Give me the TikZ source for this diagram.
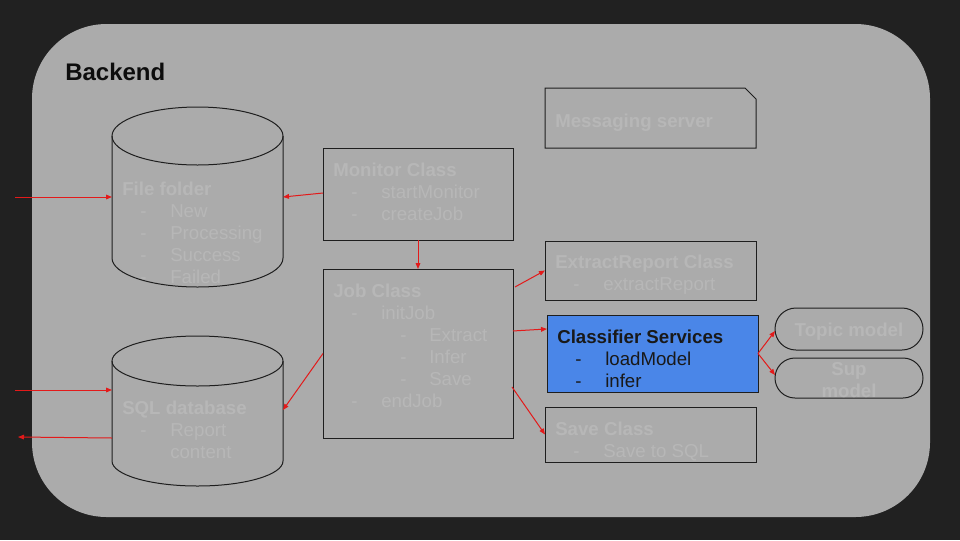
\documentclass[tikz,border=0pt]{standalone}
\usepackage{fontspec}
\setmainfont{Liberation Sans}
\usetikzlibrary{fit,arrows.meta}
\definecolor{bgdark}{HTML}{212121}
\definecolor{panel}{HTML}{ABABAB}
\definecolor{txtc}{HTML}{B7B7B7}
\definecolor{edge}{HTML}{1E1E1E}
\definecolor{bluec}{HTML}{4A86E8}
\definecolor{redc}{HTML}{E31A1A}
\newdimen\pxu \pxu=0.75pt
\newcommand\fs{\rule{0pt}{10.5pt}}
\newcommand\itm[1]{\hspace*{18\pxu}\makebox[30\pxu][l]{-}#1}
\newcommand\sitm[1]{\hspace*{67\pxu}\makebox[29\pxu][l]{-}#1}
\newcommand\cnt[1]{\hspace*{48\pxu}#1}
\tikzset{
  area/.style={inner sep=0pt, outer sep=0pt},
  boxn/.style={area, draw=edge, line width=0.75pt},
  cyl/.style={draw=edge, line width=0.75pt},
  txt/.style={anchor=north west, inner sep=0pt, align=left, font=\fontsize{14}{16.5}\selectfont, text=txtc},
  ctxt/.style={anchor=base, inner sep=0pt, align=center, font=\fontsize{14}{16.5}\selectfont\bfseries, text=txtc},
  conn/.style={draw=redc, line width=0.75pt, -{Triangle[length=4.5pt,width=3.5pt]}}
}
\begin{document}
\begin{tikzpicture}[x=0.75pt, y=-0.75pt]
\useasboundingbox (0,0) rectangle (960,540);
\fill[bgdark] (0,0) rectangle (960,540);
\node[area, fill=panel, rounded corners=56pt, fit={(32,24) (930,517)}] (panel) {};
\node[anchor=base west, inner sep=0pt, font=\fontsize{18}{21}\selectfont\bfseries, text=black!95] (title) at (65,80) {Backend};

% File folder cylinder
\node[area, fit={(112,107) (283,287)}] (ff) {};
\draw[cyl] (112,136) -- (112,258) arc[start angle=180, end angle=0, x radius=85.5, y radius=29] -- (283,136);
\draw[cyl] (197.5,136) ellipse[x radius=85.5, y radius=29];
\node[txt] (fft) at (122,181) {\fs\textbf{File folder}\\\itm{New}\\\itm{Processing}\\\itm{Success}\\\itm{Failed}};

% SQL database cylinder
\node[area, fit={(112,336) (283,486)}] (sql) {};
\draw[cyl] (112,361) -- (112,461) arc[start angle=180, end angle=0, x radius=85.5, y radius=25] -- (283,361);
\draw[cyl] (197.5,361) ellipse[x radius=85.5, y radius=25];
\node[txt] (sqlt) at (122,400) {\fs\textbf{SQL database}\\\itm{Report}\\\cnt{content}};

% Monitor and Job
\node[boxn, fit={(323,148) (513,240)}] (mon) {};
\node[txt] (mont) at (333,162) {\fs\textbf{Monitor Class}\\\itm{startMonitor}\\\itm{createJob}};
\node[boxn, fit={(323,269) (513,438)}] (job) {};
\node[txt] (jobt) at (333,283) {\fs\textbf{Job Class}\\\itm{initJob}\\\sitm{Extract}\\\sitm{Infer}\\\sitm{Save}\\\itm{endJob}};

% Messaging server (snipped corner)
\node[area, fit={(545,88) (756,148)}] (msg) {};
\draw[draw=edge, line width=0.75pt] (545,88) -- (745,88) -- (756,99) -- (756,148) -- (545,148) -- cycle;
\node[txt] (msgt) at (555,113) {\fs\textbf{Messaging server}};

% Right column classes
\node[boxn, fit={(545,241) (756,300)}] (ext) {};
\node[txt] (extt) at (555,254) {\fs\textbf{ExtractReport Class}\\\itm{extractReport}};
\node[area, draw=edge, line width=0.75pt, fill=bluec, fit={(547,315) (758,392)}] (cls) {};
\node[txt, text=black!90] (clst) at (557,329) {\fs\textbf{Classifier Services}\\\itm{loadModel}\\\itm{infer}};
\node[boxn, fit={(545,407) (756,462)}] (sav) {};
\node[txt] (savt) at (555,421) {\fs\textbf{Save Class}\\\itm{Save to SQL}};

% Models
\node[boxn, rounded corners=15.75pt, fit={(775,308) (923,350)}] (topic) {};
\node[ctxt] (topict) at (849,336) {Topic model};
\node[boxn, rounded corners=15pt, fit={(775,358) (923,398)}] (sup) {};
\node[ctxt] (supt) at (849,397) {Sup\\model};

% free ends
\coordinate (in1) at (15,197);
\coordinate (in2) at (15,390);
\coordinate (out1) at (18,437);

% connectors
\draw[conn] (in1) -- (ff.west);
\draw[conn] ([yshift=0.75pt]mon.west) -- (ff.east);
\draw[conn] (mon.south) -- (job.north);
\draw[conn] (job.west) -- ([yshift=0.75pt]sql.east);
\draw[conn] (in2) -- ([yshift=15.75pt]sql.west);
\draw[conn] ([yshift=-20.25pt]sql.west) -- (out1);
\draw[conn] ([xshift=1.5pt,yshift=49.9pt]job.east) -- (ext.west);
\draw[conn] ([yshift=16.9pt]job.east) -- ([yshift=18.4pt]cls.west);
\draw[conn] ([xshift=-0.75pt,yshift=-25.1pt]job.east) -- (sav.west);
\draw[conn] (cls.east) -- ([yshift=-1.5pt]topic.west);
\draw[conn] (cls.east) -- ([yshift=2.25pt]sup.west);
\end{tikzpicture}
\end{document}
